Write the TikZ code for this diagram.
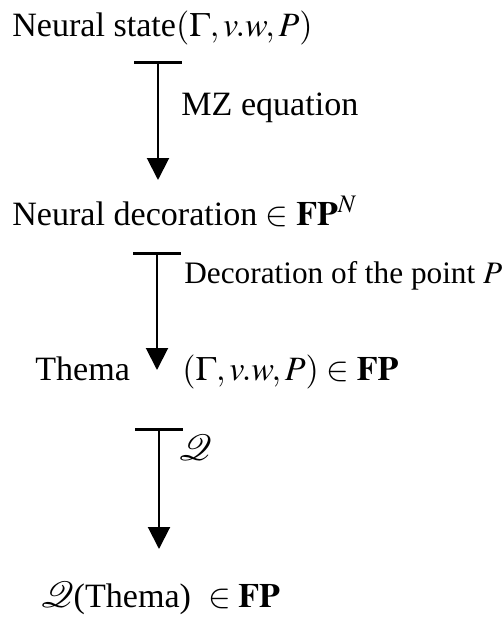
\documentclass[tikz,border=0pt]{standalone}
\usepackage{mathptmx}
\usepackage{mathrsfs}
\usepackage{fontspec}
\setmainfont{Liberation Serif}
\usepackage{tikz}
\usetikzlibrary{arrows.meta}
\tikzset{
  term-node/.style={anchor=base west, inner sep=0pt, font=\fontsize{19.4}{24}\selectfont},
  map-label/.style={anchor=base west, inner sep=0pt, font=\fontsize{19.4}{24}\selectfont},
  map-arrow/.style={line width=1.15pt,
    {Bar[width=0.96cm, line width=1.7pt]}-{Triangle[width=0.44cm, length=0.44cm]}}
}
\begin{document}
\begin{tikzpicture}[x=0.02cm, y=-0.02cm]
\useasboundingbox (0,0) rectangle (503,621);
% the four stages, top to bottom
\node[term-node] (state) at (12,37) {Neural state$(\Gamma,v.w,P)$};
\node[term-node] (deco)  at (12,226) {Neural decoration $\in\mathbf{FP}^{N}$};
\node[term-node] (thema) at (35,380) {Thema};
\node[term-node] (point) at (182,380) {$(\Gamma,v.w,P)\in\mathbf{FP}$};
\node[term-node] (image) at (40,607) {$\mathscr{Q}$(Thema)\enspace$\in\mathbf{FP}$};
% ends of the maps
\coordinate (s1) at (158,61);  \coordinate (e1) at (158,180);
\coordinate (s2) at (157,252); \coordinate (e2) at (157,370);
\coordinate (s3) at (159,428); \coordinate (e3) at (159,549);
\draw[map-arrow] (s1) -- (e1);
\draw[map-arrow] (s2) -- (e2);
\draw[map-arrow] (s3) -- (e3);
\node[map-label] (mz)  at (181,116) {MZ equation};
\node[map-label, font=\fontsize{17.8}{24}\selectfont] (dec) at (184,283) {Decoration of the point $P$};
\node[map-label] (q)   at (178,460) {$\mathscr{Q}$};
\end{tikzpicture}
\end{document}
